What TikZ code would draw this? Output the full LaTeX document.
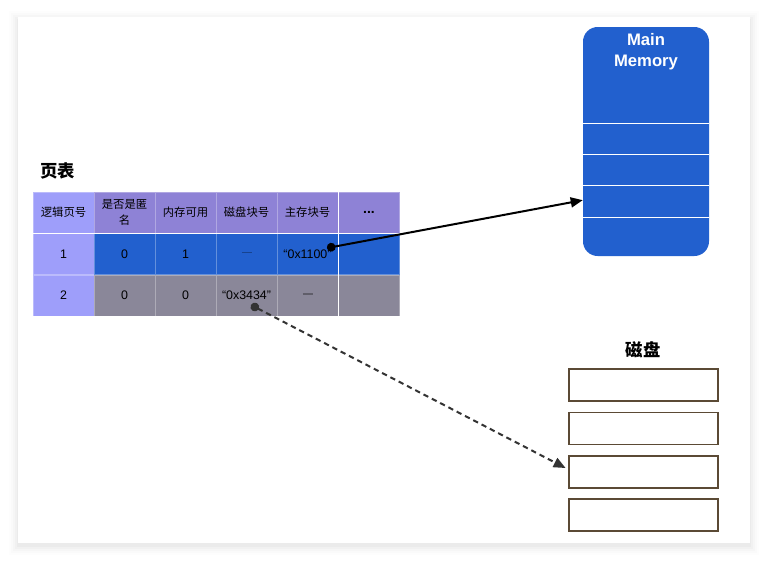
\documentclass[tikz,border=0pt]{standalone}
\usepackage{fontspec}
\setmainfont{Liberation Sans}
\newfontfamily\cjk{Noto Sans CJK SC}
\usetikzlibrary{arrows.meta}
\definecolor{keycol}{HTML}{9E9EFA}
\definecolor{headcol}{HTML}{8E82D6}
\definecolor{inmem}{HTML}{2260CE}
\definecolor{ondisk}{HTML}{8A8799}
\definecolor{diskline}{HTML}{5B4A35}
\newcommand{\nodash}{\raisebox{2.6pt}{\rule{7.5pt}{1.1pt}}}
\tikzset{
	cell/.style={rectangle, inner sep=0pt, minimum width=45.75pt, minimum height=30.75pt,
		draw=white, draw opacity=0.3, align=center, font=\fontsize{9.3}{10}\selectfont},
	keycell/.style={cell, fill=keycol},
	headcell/.style={cell, fill=headcol},
	memcell/.style={cell, fill=inmem},
	diskcell/.style={cell, fill=ondisk},
	hd/.style={font=\cjk\fontsize{8.5}{12.5}\selectfont},
	title/.style={font=\cjk\bfseries\fontsize{13}{15}\selectfont},
	slot/.style={rectangle, draw=none, minimum width=94.5pt, minimum height=23.25pt, inner sep=0pt},
	memline/.style={white, line width=1.1pt},
	block/.style={rectangle, draw=diskline, line width=1.1pt, minimum width=111.75pt, minimum height=24pt, inner sep=0pt},
	ptr/.style={line width=1.5pt, {Circle[length=6.5pt]}-{Triangle[length=9pt,width=7.5pt]}}
}

\begin{document}
\begin{tikzpicture}[x=0.75pt, y=-0.75pt]
	\useasboundingbox (0,0) rectangle (768,561);
	% card with soft shadow
	\foreach \s/\o in {9/0.008,7/0.012,5/0.016,3/0.02,1/0.025}
		\fill[black, opacity=\o] (18-\s,17-\s+3) rectangle (750+\s,543+\s+3);
	\fill[white] (18,17) rectangle (750,543);

	% page table
	\node[title] (pt) at (58,171) {页表};
	\node[keycell, hd] (h1) at (63.5,212.5) {逻辑页号};
	\node[headcell, hd] (h2) at (124.5,212.5) {是否是匿\\名};
	\node[headcell, hd] (h3) at (185.5,212.5) {内存可用};
	\node[headcell, hd] (h4) at (246.5,212.5) {磁盘块号};
	\node[headcell, hd] (h5) at (307.5,212.5) {主存块号};
	\node[headcell, font=\bfseries\fontsize{10.5}{10}\selectfont] (h6) at (369,212.5) {...};
	\node[keycell] (a1) at (63.5,254) {1};
	\node[memcell] (a2) at (124.5,254) {0};
	\node[memcell] (a3) at (185.5,254) {1};
	\node[memcell] (a4) at (246.5,254) {\nodash};
	\node[memcell] (a5) at (307.5,254) {“0x1100”};
	\node[memcell] (a6) at (369,254) {};
	\node[keycell] (b1) at (63.5,295.5) {2};
	\node[diskcell] (b2) at (124.5,295.5) {0};
	\node[diskcell] (b3) at (185.5,295.5) {0};
	\node[diskcell] (b4) at (246.5,295.5) {“0x3434”};
	\node[diskcell] (b5) at (307.5,295.5) {\nodash};
	\node[diskcell] (b6) at (369,295.5) {};

	% main memory
	\node[rectangle, fill=inmem, rounded corners=11pt, minimum width=94.5pt, minimum height=171.75pt] (mem) at (646,141.5) {};
	\node[white, align=center, font=\bfseries\fontsize{12.5}{15.5}\selectfont] (memlabel) at (646,51.5) {Main\\Memory};
	\node[slot] (s1) at (646,139) {};
	\node[slot] (s2) at (646,170.5) {};
	\node[slot] (s3) at (646,201.5) {};
	\draw[memline] (s1.north west) -- (s1.north east);
	\draw[memline] (s2.north west) -- (s2.north east);
	\draw[memline] (s3.north west) -- (s3.north east);
	\draw[memline] (s3.south west) -- (s3.south east);

	% disk
	\node[title] (dk) at (643,350) {磁盘};
	\node[block] (d1) at (643.5,385) {};
	\node[block] (d2) at (643.5,428.5) {};
	\node[block] (d3) at (643.5,472) {};
	\node[block] (d4) at (643.5,515) {};

	% pointers
	\coordinate (src1) at (327,248);
	\coordinate (src2) at (251,305);
	\draw[ptr] (src1) -- ([yshift=1pt]s3.west);
	\draw[ptr, black!80, dash pattern=on 4pt off 3pt] (src2) -- ([xshift=-2pt,yshift=3pt]d3.west);
\end{tikzpicture}
\end{document}
